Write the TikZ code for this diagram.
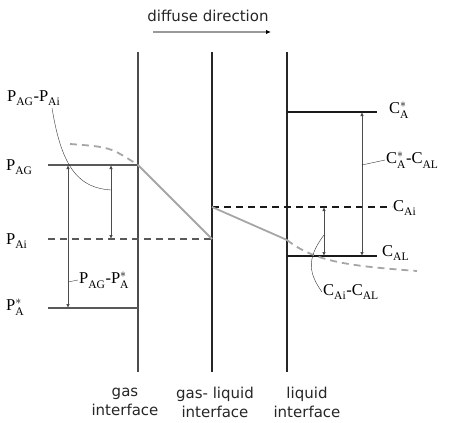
\documentclass[tikz,border=0pt]{standalone}
\usepackage{fontspec}
\setmainfont{Liberation Serif}
\setsansfont{DejaVu Sans}
\usetikzlibrary{arrows.meta}

\newcommand{\cs}[3]{$\mathrm{#1}_{\mathrm{#2}}^{#3}$}

\tikzset{
  wall/.style={line width=2.4pt, black!85},
  level/.style={line width=2pt},
  flux/.style={line width=1.8pt, black!35},
  gap/.style={line width=0.8pt, black!70, {Latex[length=4pt,width=3.5pt]}-{Latex[length=4pt,width=3.5pt]}},
  lbl/.style={font=\fontsize{16.5}{16.5}\selectfont, inner sep=1pt, anchor=west},
  word/.style={font=\sffamily\fontsize{15}{19}\selectfont, align=center, text=black!85}
}

\begin{document}
\begin{tikzpicture}[x=1pt,y=-1pt]
  \useasboundingbox (0,0) rectangle (453,423);

  % the three walls
  \coordinate (gT) at (138,52);  \coordinate (gB) at (138,372);
  \coordinate (iT) at (212,52);  \coordinate (iB) at (212,372);
  \coordinate (lT) at (287,52);  \coordinate (lB) at (287,372);
  \draw[wall, black!70] (gT) -- (gB);
  \draw[wall] (iT) -- (iB);
  \draw[wall] (lT) -- (lB);

  % levels
  \coordinate (pag) at (138,165);
  \coordinate (pai) at (212,239);
  \coordinate (pas) at (138,308);
  \coordinate (cas) at (287,112);
  \coordinate (cai) at (212,207);
  \coordinate (cal) at (287,256);
  \draw[level, black!65] (48,165) -- (pag);
  \draw[level, black!65, dash pattern=on 7pt off 5pt] (48,239) -- (pai);
  \draw[level, black!65] (48,308) -- (pas);
  \draw[level, black!90] (cas) -- (377,112);
  \draw[level, black!90, dash pattern=on 7pt off 5pt] (cai) -- (392,207);
  \draw[level, black!90] (cal) -- (377,256);

  % concentration profile
  \coordinate (lc) at (287,240);
  \draw[flux] (pag) -- (pai);
  \draw[flux] (cai) -- (lc);
  \draw[flux, dash pattern=on 7pt off 5pt] (70,144) .. controls (110,147) .. (pag);
  \draw[flux, dash pattern=on 7pt off 5pt] (lc) .. controls (315,262) and (350,266) .. (417,271);

  % differences
  \draw[gap] (68,165) -- (68,308);
  \draw[gap] (111,165) -- (111,239);
  \draw[gap] (362,112) -- (362,256);
  \draw[gap] (324,207) -- (324,256);

  % labels
  \node[lbl] (lPAG) at (5,167) {\cs{P}{AG}{}};
  \node[lbl] (lPAi) at (5,241) {\cs{P}{Ai}{}};
  \node[lbl] (lPAs) at (5,307) {\cs{P}{A}{*}};
  \node[lbl] (dP1) at (6,98) {\cs{P}{AG}{}-\cs{P}{Ai}{}};
  \node[lbl] (dP2) at (78,280) {\cs{P}{AG}{}-\cs{P}{A}{*}};
  \node[lbl] (lCAs) at (388,110) {\cs{C}{A}{*}};
  \node[lbl] (lCAi) at (392,208) {\cs{C}{Ai}{}};
  \node[lbl] (lCAL) at (381,253) {\cs{C}{AL}{}};
  \node[lbl] (dC1) at (385,160) {\cs{C}{A}{*}-\cs{C}{AL}{}};
  \node[lbl] (dC2) at (322,292) {\cs{C}{Ai}{}-\cs{C}{AL}{}};

  % leaders
  \draw[black!80] (52,108) .. controls (62,170) and (80,188) .. (111,190);
  \draw[black!70] (68,282) -- (dP2.west);
  \draw[black!80] (362,165) -- (dC1.west);
  \draw[black!80] (324,235) .. controls (305,260) and (310,275) .. (dC2.west);

  % direction
  \node[word] (dir) at (208,16) {diffuse direction};
  \draw[line width=1.5pt, black!40, -{Latex[length=5pt,width=4.5pt,color=black]}] (153,32) -- (271,32);

  \node[word] (ng) at (125,402) {gas\\interface};
  \node[word] (ngl) at (215,402) {gas- liquid\\interface};
  \node[word] (nl) at (307,402) {liquid\\interface};
\end{tikzpicture}
\end{document}
